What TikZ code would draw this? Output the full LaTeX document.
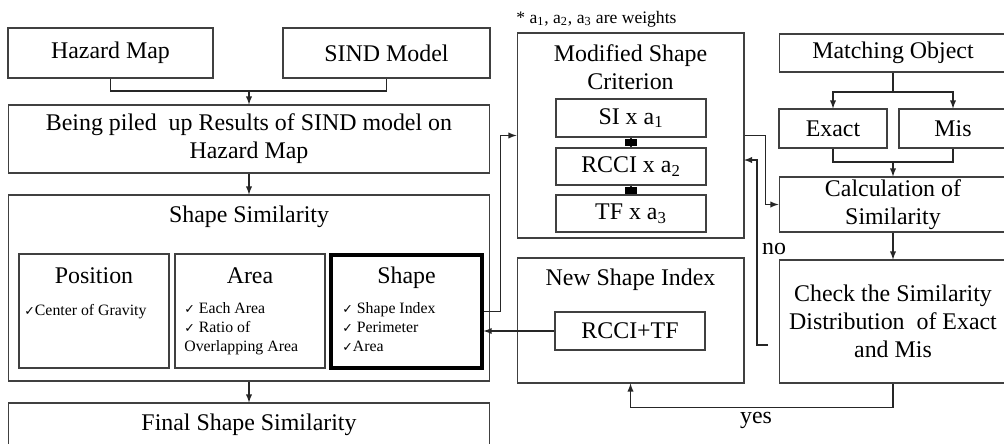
\documentclass[tikz,border=0pt]{standalone}
\usepackage{fontspec}
\setmainfont{Liberation Serif}
\newfontfamily\symfont{DejaVu Sans}
\usetikzlibrary{positioning}

\newcommand{\ck}{{\symfont\fontsize{7.2}{7.2}\selectfont ✓}}

\tikzstyle{block} = [rectangle, draw=black!75, line width=0.6pt, inner sep=0pt, align=center, font=\fontsize{13.6}{16}\selectfont]
\tikzstyle{title} = [inner sep=0pt, align=center, font=\fontsize{13.6}{16}\selectfont]
\tikzstyle{oneline} = [title, text height=9pt, text depth=3pt]
\tikzstyle{items} = [inner sep=0pt, align=left, font=\fontsize{9}{11}\selectfont]
\tikzstyle{arrow} = [draw, black!85, line width=0.6pt, -latex]
\tikzstyle{line} = [draw, black!85, line width=0.6pt]

\begin{document}
\begin{tikzpicture}[x=0.02cm, y=-0.02cm]
    \useasboundingbox (0,0) rectangle (1004,443);
    \clip (0,0) rectangle (1004,443);

    % left column
    \node[block, minimum width=4.1cm, minimum height=1cm] (hazard) at (110.5,53) {Hazard Map};
    \node[block, minimum width=4.14cm, minimum height=1cm] (sind) at (386.5,53) {SIND Model};
    \node[block, minimum width=9.64cm, minimum height=1.36cm] (piled) at (249,139) {Being piled\ \ up Results of SIND model on\\Hazard Map};
    \node[block, minimum width=9.64cm, minimum height=3.72cm] (simil) at (249,288) {};
    \node[oneline] (simtitle) at (249,217) {Shape Similarity};

    \node[block, minimum width=3cm, minimum height=2.28cm] (position) at (94,311) {};
    \node[block, minimum width=3cm, minimum height=2.28cm] (area) at (250,311) {};
    \node[block, minimum width=3.02cm, minimum height=2.26cm, line width=1.8pt, draw=black] (shape) at (406.5,311.5) {};
    \node[oneline] (postitle) at (94,278) {Position};
    \node[oneline] (areatitle) at (250,278) {Area};
    \node[oneline] (shapetitle) at (406.5,278) {Shape};
    \node[items, anchor=west] (positems) at (24,312) {\ck Center of Gravity};
    \node[items, anchor=north west] (areaitems) at (184,302) {\ck\ Each Area\\\ck\ Ratio of\\Overlapping Area};
    \node[items, anchor=north west] (shapeitems) at (342,302) {\ck\ Shape Index\\\ck\ Perimeter\\\ck Area};

    \node[block, minimum width=9.64cm, minimum height=0.86cm] (finalsim) at (249,424.5) {Final Shape Similarity};

    % middle column
    \node[items, anchor=west, font=\fontsize{10}{11}\selectfont] (note) at (516,19) {* a\textsubscript{1}, a\textsubscript{2}, a\textsubscript{3} are weights};
    \node[block, minimum width=4.54cm, minimum height=4.1cm] (msc) at (630.5,135.5) {};
    \node[title] (msctitle) at (630.5,67) {Modified Shape\\Criterion};
    \node[block, minimum width=3cm, minimum height=0.76cm] (si) at (631,118) {SI x a\textsubscript{1}};
    \node[block, minimum width=3cm, minimum height=0.74cm] (rcci) at (631,166.5) {RCCI x a\textsubscript{2}};
    \node[block, minimum width=3cm, minimum height=0.74cm] (tf) at (631,213.5) {TF x a\textsubscript{3}};

    \node[block, minimum width=4.54cm, minimum height=2.5cm] (nsi) at (630.5,320.5) {};
    \node[oneline] (nsititle) at (630.5,280) {New Shape Index};
    \node[block, minimum width=3cm, minimum height=0.76cm] (rcctf) at (630,331) {RCCI+TF};

    % right column
    \node[block, minimum width=4.56cm, minimum height=0.76cm] (match) at (893,53) {Matching Object};
    \node[block, minimum width=2.16cm, minimum height=0.78cm] (exact) at (833,128.5) {Exact};
    \node[block, minimum width=2.16cm, minimum height=0.78cm] (mis) at (953,128.5) {Mis};
    \node[block, minimum width=4.56cm, minimum height=1.1cm] (calc) at (893,204.5) {Calculation of\\Similarity};
    \node[block, minimum width=4.56cm, minimum height=2.46cm] (check) at (893,321.5) {Check the Similarity\\Distribution\ \ of Exact\\and Mis};

    \coordinate (join1) at (249,91);
    \coordinate (split) at (893,92);
    \coordinate (join2) at (893,162);
    \coordinate (noend) at (768,345);
    \coordinate (nocorner) at (757,345);
    \coordinate (noin) at (744,160);

    % lines
    \draw [line] (hazard.south) |- (join1) -| (sind.south);
    \draw [arrow] (join1) -- (piled.north);
    \draw [arrow] (piled.south) -- (simil.north);
    \draw [arrow] (simil.south) -- (finalsim.north);

    \draw [line] (si.south) -- (rcci.north);
    \draw [line] (rcci.south) -- (tf.north);
    \node[fill=black, minimum width=0.24cm, minimum height=0.14cm, inner sep=0pt] (link1) at (631,142.5) {};
    \node[fill=black, minimum width=0.24cm, minimum height=0.14cm, inner sep=0pt] (link2) at (631,190.5) {};

    \draw [arrow] (shape.east) -- ++(0.34cm,0) |- (msc.west);
    \draw [arrow] (rcctf.west) -- (rcctf.west -| shape.east);
    \draw [arrow] (msc.east) -- ++(0.42cm,0) |- (calc.west);

    \draw [line] (match.south) -- (split);
    \draw [arrow] (split) -| (exact.north);
    \draw [arrow] (split) -| (mis.north);
    \draw [line] (exact.south) |- (join2) -| (mis.south);
    \draw [arrow] (join2) -- (calc.north);
    \draw [arrow] (calc.south) -- (check.north);

    \draw [arrow] (noend) -- (nocorner) |- (noin);
    \node[oneline] (nolabel) at (774,249) {no};
    \draw [arrow] (check.south) -- ++(0,-0.48cm) -| (nsi.south);
    \node[oneline] (yeslabel) at (756,418) {yes};
\end{tikzpicture}
\end{document}
